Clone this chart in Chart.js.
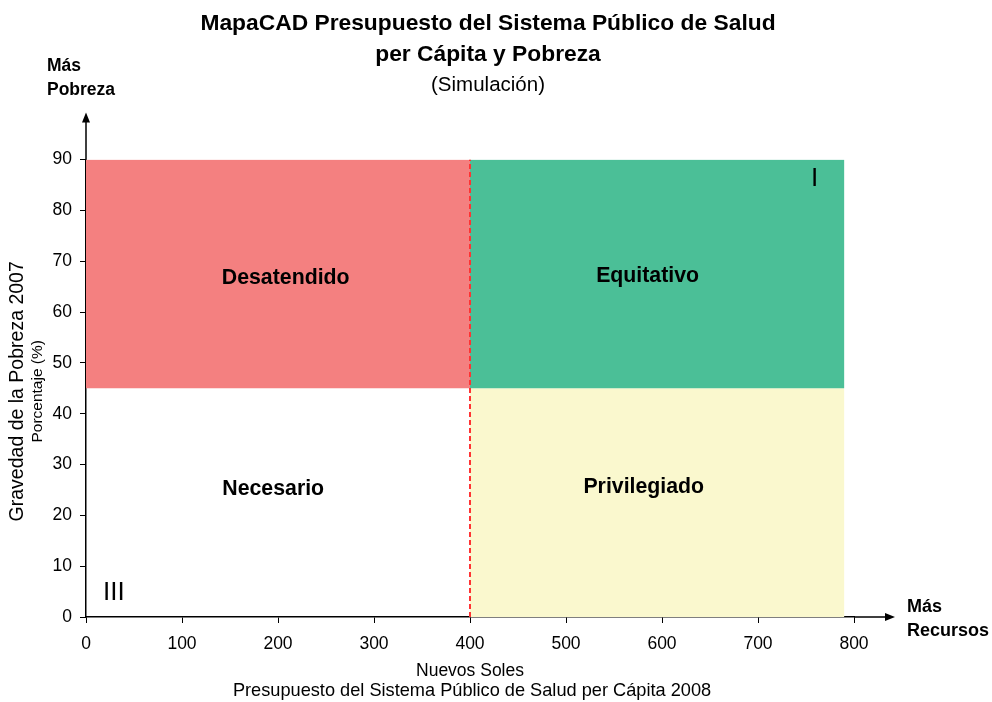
<!DOCTYPE html>
<html>
<head>
<meta charset="utf-8">
<script src="https://cdn.jsdelivr.net/npm/chart.js@4.4.1/dist/chart.umd.min.js"></script>
<style>
  html, body { margin: 0; background: #fff; }
  #wrap { width: 992px; height: 702px; }
</style>
</head>
<body>
<div id="wrap"><canvas id="chart"></canvas></div>
<script>
// axis ranges
const X_MIN = 0, X_MAX = 800, X_STEP = 100;
const Y_MIN = 0, Y_MAX = 90, Y_STEP = 10;

// quadrants: Desatendido, Equitativo, Privilegiado, Necesario
const QUAD_NAMES = ["Desatendido", "Equitativo", "Privilegiado", "Necesario"];
const QUAD_X0 = [0, 400, 400, 0];
const QUAD_X1 = [400, 790, 790, 400];
const QUAD_Y0 = [45, 45, 0, 0];
const QUAD_Y1 = [90, 90, 45, 45];
const QUAD_LABEL_X = [208, 585, 581, 195];
const QUAD_LABEL_Y = [66.7, 67.0, 25.6, 25.2];

// roman numerals in the corners
const ROMAN = ["I", "III"];
const ROMAN_X = [759, 29];
const ROMAN_Y = [86.2, 4.8];

// dividing line
const SPLIT_X = 400;

const QUAD_COLORS = ["#F48080", "#4BBF97", "#FAF8CE", "rgba(255,255,255,0)"];
const FONT = '"Liberation Sans", Arial, sans-serif';

const quadSets = QUAD_NAMES.map((name, i) => ({
  label: name,
  data: [
    { x: QUAD_X0[i], y: QUAD_Y1[i] },
    { x: QUAD_X1[i], y: QUAD_Y1[i] },
  ],
  borderWidth: 0,
  pointRadius: 0,
  backgroundColor: QUAD_COLORS[i],
  fill: { value: QUAD_Y0[i] },
  order: 2,
}));

const splitSet = {
  label: "split",
  data: [
    { x: SPLIT_X, y: Y_MIN },
    { x: SPLIT_X, y: Y_MAX },
  ],
  borderColor: "#FF3333",
  borderWidth: 2,
  borderDash: [5, 3],
  pointRadius: 0,
  fill: false,
  order: 1,
};

function arrowHead(ctx, tx, ty, dir) {
  ctx.beginPath();
  if (dir === "up") {
    ctx.moveTo(tx, ty);
    ctx.lineTo(tx - 4, ty + 10);
    ctx.lineTo(tx + 4, ty + 10);
  } else {
    ctx.moveTo(tx, ty);
    ctx.lineTo(tx - 10, ty - 4);
    ctx.lineTo(tx - 10, ty + 4);
  }
  ctx.closePath();
  ctx.fill();
}

const extras = {
  id: "extras",
  afterDatasetsDraw(chart) {
    const { ctx, scales: { x, y } } = chart;
    ctx.save();
    ctx.fillStyle = "#000";
    ctx.textAlign = "center";
    ctx.textBaseline = "middle";
    ctx.font = `bold 21.3px ${FONT}`;
    QUAD_NAMES.forEach((n, i) => {
      ctx.fillText(n, x.getPixelForValue(QUAD_LABEL_X[i]), y.getPixelForValue(QUAD_LABEL_Y[i]));
    });
    ctx.font = `26px ${FONT}`;
    ROMAN.forEach((r, i) => {
      ctx.fillText(r, x.getPixelForValue(ROMAN_X[i]), y.getPixelForValue(ROMAN_Y[i]));
    });
    ctx.restore();
  },
  afterDraw(chart) {
    const { ctx, chartArea: a } = chart;
    ctx.save();
    ctx.strokeStyle = "#000";
    ctx.fillStyle = "#000";
    ctx.lineWidth = 1.5;
    // axis extensions with arrows
    ctx.beginPath();
    ctx.moveTo(a.left, a.top);
    ctx.lineTo(a.left, a.top - 38);
    ctx.moveTo(a.right, a.bottom);
    ctx.lineTo(a.right + 32, a.bottom);
    ctx.stroke();
    arrowHead(ctx, a.left, a.top - 47, "up");
    arrowHead(ctx, a.right + 41, a.bottom, "right");

    // corner captions
    ctx.textAlign = "left";
    ctx.textBaseline = "middle";
    ctx.font = `bold 17.5px ${FONT}`;
    ctx.fillText("Más", a.left - 39, a.top - 93);
    ctx.fillText("Pobreza", a.left - 39, a.top - 69);
    ctx.font = `bold 18px ${FONT}`;
    ctx.fillText("Más", a.right + 53, a.bottom - 10);
    ctx.fillText("Recursos", a.right + 53, a.bottom + 14);

    // y axis titles
    const cy = (a.top + a.bottom) / 2;
    ctx.textAlign = "center";
    ctx.save();
    ctx.translate(a.left - 68, cy + 3);
    ctx.rotate(-Math.PI / 2);
    ctx.font = `19.5px ${FONT}`;
    ctx.fillText("Gravedad de la Pobreza 2007", 0, 0);
    ctx.restore();
    ctx.save();
    ctx.translate(a.left - 48, cy + 3);
    ctx.rotate(-Math.PI / 2);
    ctx.font = `15.5px ${FONT}`;
    ctx.fillText("Porcentaje (%)", 0, 0);
    ctx.restore();

    // x axis titles
    const cx = (a.left + a.right) / 2;
    ctx.font = `17.5px ${FONT}`;
    ctx.fillText("Nuevos Soles", cx, a.bottom + 54);
    ctx.font = `18.2px ${FONT}`;
    ctx.fillText("Presupuesto del Sistema Público de Salud per Cápita 2008", cx + 2, a.bottom + 74);
    ctx.restore();
  },
};

new Chart(document.getElementById("chart"), {
  type: "line",
  data: { datasets: [...quadSets, splitSet] },
  plugins: [extras],
  options: {
    responsive: true,
    maintainAspectRatio: false,
    animation: false,
    layout: { padding: { top: 8, left: 0, right: 16, bottom: 0 } },
    plugins: {
      legend: { display: false },
      tooltip: { enabled: false },
      title: {
        display: true,
        text: ["MapaCAD Presupuesto del Sistema Público de Salud", "per Cápita y Pobreza"],
        color: "#000",
        font: { family: FONT, size: 22.8, weight: "bold", lineHeight: 31 / 22.8 },
        padding: { top: 0, bottom: 3 },
      },
      subtitle: {
        display: true,
        text: "(Simulación)",
        color: "#000",
        font: { family: FONT, size: 20.5, weight: "normal", lineHeight: 1.2 },
        padding: { top: 0, bottom: 62 },
      },
    },
    scales: {
      x: {
        type: "linear",
        min: X_MIN,
        max: X_MAX,
        afterFit: (s) => { s.height = 85; },
        ticks: { stepSize: X_STEP, color: "#000", padding: 11, font: { family: FONT, size: 17.5 } },
        grid: { display: true, drawOnChartArea: false, drawTicks: true, tickLength: 6, color: "#000" },
        border: { display: true, color: "#000", width: 1.5 },
      },
      y: {
        type: "linear",
        min: Y_MIN,
        max: Y_MAX,
        afterFit: (s) => { s.width = 86; },
        ticks: { stepSize: Y_STEP, color: "#000", padding: 8, font: { family: FONT, size: 17.5 } },
        grid: { display: true, drawOnChartArea: false, drawTicks: true, tickLength: 6, color: "#000" },
        border: { display: true, color: "#000", width: 1.5 },
      },
      pad: {
        type: "linear",
        position: "right",
        afterFit: (s) => { s.width = 122; },
        ticks: { display: false },
        grid: { display: false },
        border: { display: false },
      },
    },
  },
});
</script>
</body>
</html>
